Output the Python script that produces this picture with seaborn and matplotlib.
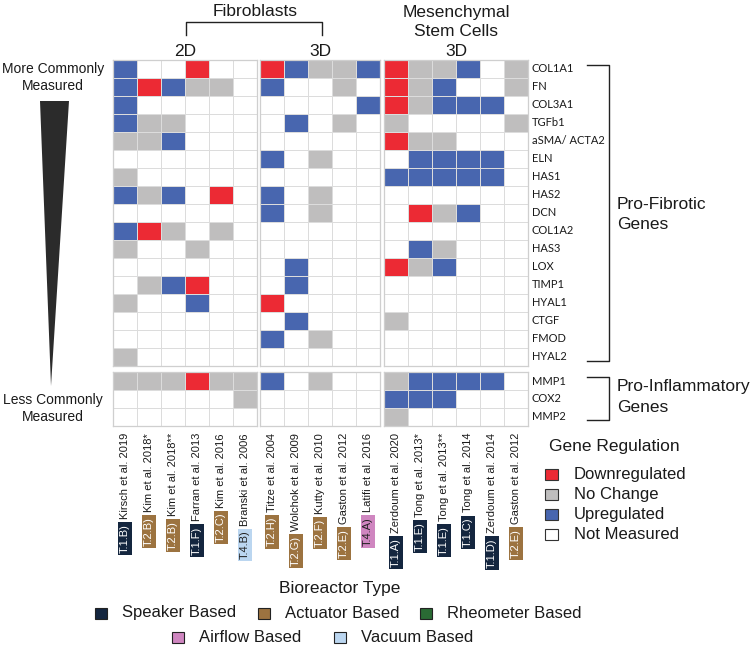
import numpy as np
import pandas as pd
import matplotlib
matplotlib.use("Agg")
import matplotlib.pyplot as plt
import seaborn as sns
from matplotlib.colors import ListedColormap
from matplotlib.patches import Rectangle, Polygon
from matplotlib.lines import Line2D

# ---------------- data ----------------
genes_fibrotic = ["COL1A1", "FN", "COL3A1", "TGFb1", "aSMA/ ACTA2", "ELN", "HAS1", "HAS2",
                  "DCN", "COL1A2", "HAS3", "LOX", "TIMP1", "HYAL1", "CTGF", "FMOD", "HYAL2"]
genes_inflam = ["MMP1", "COX2", "MMP2"]

studies_2d = ["Kirsch et al. 2019", "Kim et al. 2018*", "Kim et al. 2018**",
              "Farran et al. 2013", "Kim et al. 2016", "Branski et al. 2006"]
badges_2d = ["T.1.B)", "T.2.B)", "T.2.B)", "T.1.F)", "T.2.C)", "T.4.B)"]
types_2d = ["Speaker", "Actuator", "Actuator", "Speaker", "Actuator", "Vacuum"]

studies_3d = ["Titze et al. 2004", "Wolchok et al. 2009", "Kutty et al. 2010",
              "Gaston et al. 2012", "Latifi et al. 2016"]
badges_3d = ["T.2.H)", "T.2.G)", "T.2.F)", "T.2.E)", "T.4.A)"]
types_3d = ["Actuator", "Actuator", "Actuator", "Actuator", "Airflow"]

studies_msc = ["Zerdoum et al. 2020", "Tong et al. 2013*", "Tong et al. 2013**",
               "Tong et al. 2014", "Zerdoum et al. 2014", "Gaston et al. 2012"]
badges_msc = ["T.1.A)", "T.1.E)", "T.1.E)", "T.1.C)", "T.1.D)", "T.2.E)"]
types_msc = ["Speaker", "Speaker", "Speaker", "Speaker", "Speaker", "Actuator"]

# D = downregulated, N = no change, U = upregulated, - = not measured
# one string per gene (fibrotic genes then inflammatory genes)
fib2d = ["U--D--", "UDUNN-", "U-----", "UNN---", "NNU---", "------", "N-----", "UNU-D-",
         "------", "UDN-N-", "N--N--", "------", "-NUD--", "N--U--", "------", "------",
         "N-----",
         "NNNDNN", "-----N", "------"]
fib3d = ["DUNNU", "U--N-", "----U", "-U-N-", "-----", "U-N--", "-----", "U-N--",
         "U-N--", "-----", "-----", "-U---", "-U---", "D----", "-U---", "U-N--",
         "-----",
         "U-N--", "-----", "-----"]
msc3d = ["DNNU-N", "DNU--N", "DNUUU-", "N----N", "DNN---", "-UUUU-", "UUUUU-", "------",
         "-DNU--", "------", "-UN---", "DNU---", "------", "------", "N-----", "------",
         "------",
         "NUUUU-", "UUU---", "N-----"]

reg_labels = ["Downregulated", "No Change", "Upregulated", "Not Measured"]
reg_codes = ["D", "N", "U", "-"]
reactor_labels = ["Speaker Based", "Actuator Based", "Rheometer Based", "Airflow Based", "Vacuum Based"]

# ---------------- styles ----------------
C_RED, C_GRAY, C_BLUE, C_WHITE = "#EC2A34", "#BFBEBE", "#4866AF", "#FFFFFF"
reactor_colors = {"Speaker": "#14263F", "Actuator": "#9C7340", "Rheometer": "#2A6B34",
                  "Airflow": "#CF86C0", "Vacuum": "#BBD6F0"}
badge_text = {"Speaker": "white", "Actuator": "white", "Rheometer": "white",
              "Airflow": "#222222", "Vacuum": "#222222"}
code_val = {"-": 0, "D": 1, "N": 2, "U": 3}
cmap = ListedColormap([C_WHITE, C_RED, C_GRAY, C_BLUE])

plt.rcParams["font.family"] = ["Liberation Sans", "DejaVu Sans"]

W, H = 750, 649
fig = plt.figure(figsize=(W / 100, H / 100), dpi=100)


def fx(x):
    return x / W


def fy(y):
    return 1 - y / H


def rect(x0, y0, x1, y1):
    return [x0 / W, 1 - y1 / H, (x1 - x0) / W, (y1 - y0) / H]


def to_df(rows, genes, cols):
    return pd.DataFrame([[code_val[c] for c in r] for r in rows], index=genes, columns=cols)


nf = len(genes_fibrotic)
col_groups = [
    (113, 257, fib2d, studies_2d, badges_2d, types_2d),
    (260, 380, fib3d, studies_3d, badges_3d, types_3d),
    (384, 528, msc3d, studies_msc, badges_msc, types_msc),
]
row_groups = [(60, 366, slice(0, nf), genes_fibrotic), (372, 426, slice(nf, None), genes_inflam)]

for (x0, x1, rows, studies, badges, types) in col_groups:
    for (y0, y1, sl, genes) in row_groups:
        ax = fig.add_axes(rect(x0, y0, x1, y1))
        df = to_df(rows[sl], genes, studies)
        sns.heatmap(df, ax=ax, cmap=cmap, vmin=-0.5, vmax=3.5, cbar=False,
                    linewidths=0.7, linecolor="#DCDCDC",
                    xticklabels=False, yticklabels=False)
        ax.set_xlabel("")
        ax.set_ylabel("")
        for s in ax.spines.values():
            s.set_visible(True)
            s.set_color("#CFCFCF")
            s.set_linewidth(0.9)

# gene labels
for (y0, y1, sl, genes) in row_groups:
    rh = (y1 - y0) / len(genes)
    for i, g in enumerate(genes):
        fig.text(fx(532), fy(y0 + (i + 0.5) * rh), g, ha="left", va="center",
                 fontsize=8, family=["Lato", "DejaVu Sans"], color="#1a1a1a")

# column labels with badges
renderer = fig.canvas.get_renderer()
for (x0, x1, rows, studies, badges, types) in col_groups:
    cw = (x1 - x0) / len(studies)
    for j, (name, b, t) in enumerate(zip(studies, badges, types)):
        xc = x0 + (j + 0.5) * cw
        txt = fig.text(fx(xc), fy(433), name, rotation=90, ha="center", va="top",
                       fontsize=8, color="#1a1a1a")
        bb = txt.get_window_extent(renderer=renderer)
        fig.text(fx(xc), (bb.y0 - 5) / H, b, rotation=90, ha="center", va="top",
                 fontsize=8, color=badge_text[t],
                 bbox=dict(boxstyle="square,pad=0.18", fc=reactor_colors[t], ec="none"))

# header texts
fig.text(fx(255), fy(11), "Fibroblasts", ha="center", va="center", fontsize=12.5, color="#1a1a1a")
fig.add_artist(Line2D([fx(186), fx(186), fx(322), fx(322)], [fy(35), fy(22), fy(22), fy(35)],
                      transform=fig.transFigure, color="#222222", lw=1))
fig.text(fx(185), fy(51), "2D", ha="center", va="center", fontsize=12.5, color="#1a1a1a")
fig.text(fx(320), fy(51), "3D", ha="center", va="center", fontsize=12.5, color="#1a1a1a")
fig.text(fx(456), fy(12), "Mesenchymal", ha="center", va="center", fontsize=12.5, color="#1a1a1a")
fig.text(fx(456), fy(31), "Stem Cells", ha="center", va="center", fontsize=12.5, color="#1a1a1a")
fig.text(fx(456), fy(51), "3D", ha="center", va="center", fontsize=12.5, color="#1a1a1a")

# left gradient wedge
fig.text(fx(53), fy(69), "More Commonly", ha="center", va="center", fontsize=10, color="#1a1a1a")
fig.text(fx(53), fy(86), "Measured", ha="center", va="center", fontsize=10, color="#1a1a1a")
fig.add_artist(Polygon([(fx(40), fy(101)), (fx(69), fy(101)), (fx(51), fy(386))],
                       closed=True, transform=fig.transFigure, color="#2B2B2B", lw=0))
fig.text(fx(53), fy(400), "Less Commonly", ha="center", va="center", fontsize=10, color="#1a1a1a")
fig.text(fx(53), fy(417), "Measured", ha="center", va="center", fontsize=10, color="#1a1a1a")

# right brackets
for (ya, yb) in [(65, 361), (377, 420)]:
    fig.add_artist(Line2D([fx(587), fx(609), fx(609), fx(587)], [fy(ya), fy(ya), fy(yb), fy(yb)],
                          transform=fig.transFigure, color="#222222", lw=1))
fig.text(fx(617), fy(204), "Pro-Fibrotic", ha="left", va="center", fontsize=12.5, color="#1a1a1a")
fig.text(fx(617), fy(225), "Genes", ha="left", va="center", fontsize=12.5, color="#1a1a1a")
fig.text(fx(617), fy(386), "Pro-Inflammatory", ha="left", va="center", fontsize=12.5, color="#1a1a1a")
fig.text(fx(617), fy(408), "Genes", ha="left", va="center", fontsize=12.5, color="#1a1a1a")

# gene regulation legend
fig.text(fx(549), fy(447), "Gene Regulation", ha="left", va="center", fontsize=12.5, color="#1a1a1a")
reg_colors = [C_RED, C_GRAY, C_BLUE, C_WHITE]
for k, (lab, col) in enumerate(zip(reg_labels, reg_colors)):
    yc = 474 + k * 20.3
    fig.add_artist(Rectangle((fx(545), fy(yc + 5.5)), 13 / W, 11 / H, transform=fig.transFigure,
                             fc=col, ec="#333333", lw=0.8))
    fig.text(fx(574), fy(yc), lab, ha="left", va="center", fontsize=12, color="#1a1a1a")

# bioreactor legend
fig.text(fx(340), fy(588), "Bioreactor Type", ha="center", va="center", fontsize=12.5, color="#1a1a1a")
reactor_keys = ["Speaker", "Actuator", "Rheometer", "Airflow", "Vacuum"]
reactor_pos = [(95, 613), (258, 613), (420, 613), (172, 637), (334, 637)]
for key, lab, (sx, sy) in zip(reactor_keys, reactor_labels, reactor_pos):
    fig.add_artist(Rectangle((fx(sx), fy(sy + 5.5)), 12 / W, 11 / H, transform=fig.transFigure,
                             fc=reactor_colors[key], ec="#222222", lw=0.8))
    fig.text(fx(sx + 27), fy(sy), lab, ha="left", va="center", fontsize=12, color="#1a1a1a")

fig.savefig("out.png", dpi=100)
